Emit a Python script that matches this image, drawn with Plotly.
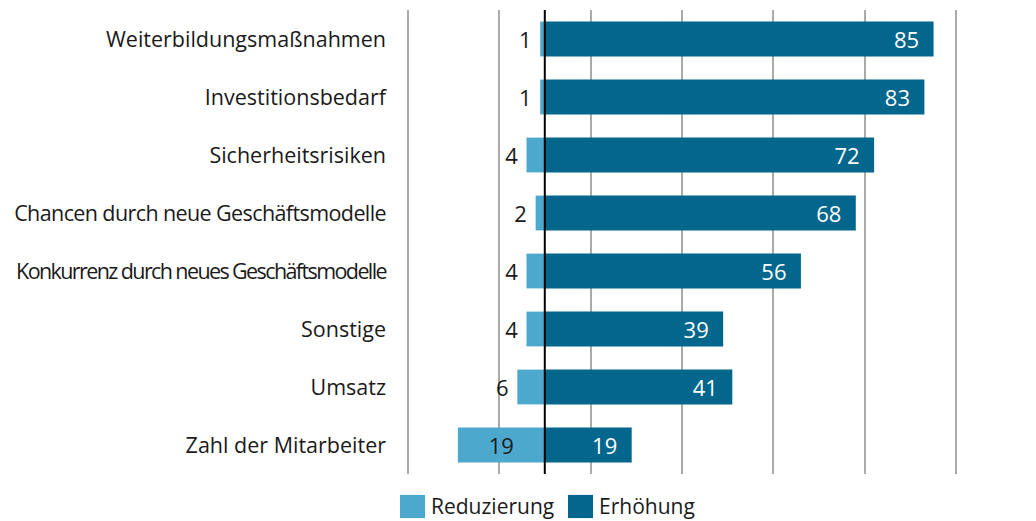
import plotly.graph_objects as go

categories = [
    "Weiterbildungsmaßnahmen",
    "Investitionsbedarf",
    "Sicherheitsrisiken",
    "Chancen durch neue Geschäftsmodelle",
    "Konkurrenz durch neues Geschäftsmodelle",
    "Sonstige",
    "Umsatz",
    "Zahl der Mitarbeiter",
]
reduzierung = [1, 1, 4, 2, 4, 4, 6, 19]
erhoehung = [85, 83, 72, 68, 56, 39, 41, 19]
series_names = ["Reduzierung", "Erhöhung"]
grid_vals = [-30, -10, 10, 30, 50, 70, 90]

LIGHT = "#4DA8CE"
DARK = "#02668D"
FONT = "Open Sans"
TXT = "#1a1a1a"

# tick labels (long ones set tighter, as in the original)
spacing = {"Konkurrenz": "-1.6px", "Chancen": "-0.6px"}
tick_text = []
for c in categories:
    ls = next((v for k, v in spacing.items() if c.startswith(k)), None)
    tick_text.append(f'<span style="letter-spacing:{ls}">{c}</span>' if ls else c)

fig = go.Figure()
fig.add_trace(go.Bar(
    y=categories, x=[-v for v in reduzierung], orientation="h",
    name=series_names[0], marker=dict(color=LIGHT, line=dict(width=0)),
    text=[str(v) + ("" if v >= 10 else "\u00a0") for v in reduzierung],
    textposition=["inside" if v >= 10 else "outside" for v in reduzierung],
    insidetextanchor="middle", constraintext="none", textangle=0,
    insidetextfont=dict(color=TXT, size=22, family=FONT),
    outsidetextfont=dict(color=TXT, size=22, family=FONT),
    cliponaxis=False, showlegend=False, width=0.6,
))
fig.add_trace(go.Bar(
    y=categories, x=erhoehung, orientation="h",
    name=series_names[1], marker=dict(color=DARK, line=dict(width=0)),
    text=[str(v) + "\u00a0\u00a0" for v in erhoehung], textposition="inside",
    insidetextanchor="end", constraintext="none", textangle=0,
    insidetextfont=dict(color="white", size=22, family=FONT),
    showlegend=False, width=0.6,
))

# zero line
fig.add_shape(type="line", xref="x", yref="paper", x0=0, x1=0, y0=0, y1=1,
              line=dict(color="black", width=2), layer="above")

# custom legend (paper coordinates)
leg = [(-0.0054, LIGHT, series_names[0]), (0.2957, DARK, series_names[1])]
for x0, col, name in leg:
    fig.add_shape(type="rect", xref="paper", yref="paper",
                  x0=x0, x1=x0 + 0.0448, y0=-0.045, y1=-0.095,
                  fillcolor=col, line=dict(width=0))
    fig.add_annotation(xref="paper", yref="paper", x=x0 + 0.0525, y=-0.070,
                       text=name, showarrow=False, xanchor="left", yanchor="middle",
                       font=dict(size=21, color=TXT, family=FONT))

fig.update_layout(
    width=1036, height=521,
    margin=dict(l=403, r=75, t=10, b=47),
    plot_bgcolor="white", paper_bgcolor="white",
    barmode="overlay",
    font=dict(family=FONT, size=20, color=TXT),
    xaxis=dict(range=[-31, 91], tickvals=grid_vals, showticklabels=False,
               showgrid=True, gridcolor="#AAAAAA", gridwidth=2,
               zeroline=False, showline=False, fixedrange=True),
    yaxis=dict(categoryorder="array", categoryarray=categories[::-1],
               tickvals=categories, ticktext=tick_text,
               autorange=False, range=[-0.5, 7.5], ticks="", ticklabelstandoff=16,
               showgrid=False, zeroline=False, showline=False, fixedrange=True,
               tickfont=dict(size=21.5, family=FONT, color=TXT)),
)

fig.write_html("out.html", config={"displayModeBar": False},
               post_script="document.body.style.margin='0px';")
